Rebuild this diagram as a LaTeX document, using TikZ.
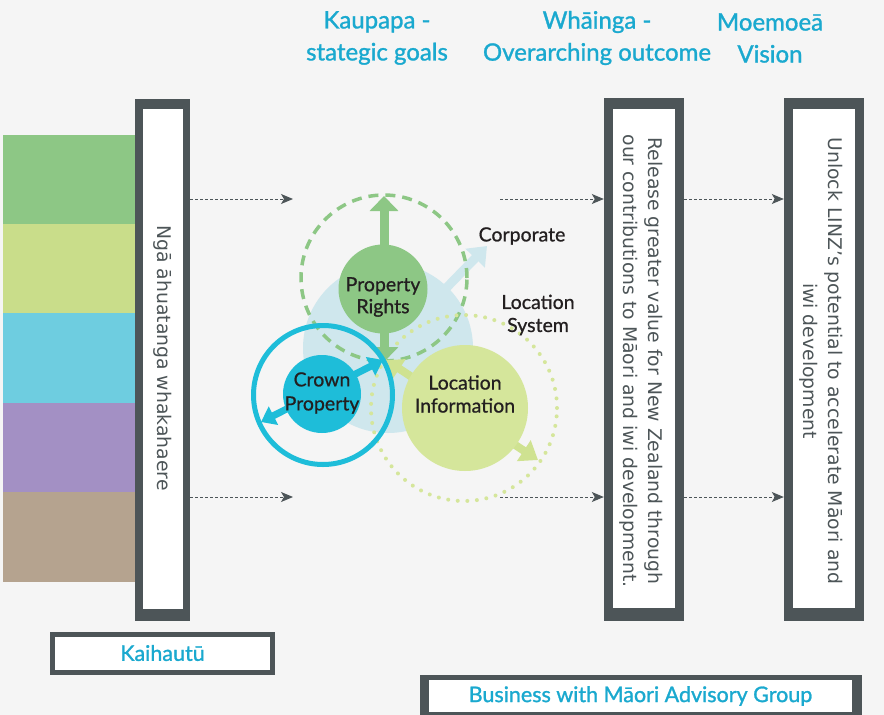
\documentclass[tikz,border=0pt]{standalone}
\usepackage{fontspec}
\setmainfont{Lato}
\newfontfamily\boxfont{DejaVu Sans}
\newfontfamily\headfont{Lato}[FakeBold=1.2]
\newfontfamily\lblfont{Lato}[FakeBold=0.8]
\usetikzlibrary{arrows.meta}
\definecolor{bg}{HTML}{F5F5F5}
\definecolor{dark}{HTML}{4D5558}
\definecolor{head}{HTML}{1AA9CF}
\definecolor{sgreen}{HTML}{8DC785}
\definecolor{syellow}{HTML}{C9DD8A}
\definecolor{scyan}{HTML}{6ECDE0}
\definecolor{spurple}{HTML}{A390C4}
\definecolor{stan}{HTML}{B5A38F}
\definecolor{pale}{HTML}{CFE7ED}
\definecolor{lgreen}{HTML}{D5E69B}
\definecolor{larrow}{HTML}{CFE291}
\definecolor{crown}{HTML}{1EBDD9}
\definecolor{txt}{HTML}{231F20}
\tikzset{
  strip/.style={rectangle, inner sep=0pt, minimum width=132pt, minimum height=89.5pt},
  outerbox/.style={rectangle, fill=dark, inner sep=0pt},
  innerbox/.style={rectangle, fill=white, inner sep=0pt},
  boxtext/.style={rotate=-90, text=dark, align=center, font=\boxfont\fontsize{18.8}{25.5}\selectfont},
  heading/.style={text=head, align=center, font=\headfont\fontsize{24}{32}\selectfont},
  smallbox/.style={rectangle, fill=white, draw=dark, line width=5pt, inner sep=0pt, text=head, font=\headfont\fontsize{21.5}{25}\selectfont},
  dasharrow/.style={dark, line width=1pt, dash pattern=on 3pt off 2pt, -{Stealth[length=12pt, width=10pt, inset=3pt]}},
  goal/.style={circle, inner sep=0pt},
  lbl/.style={text=txt, align=center, font=\lblfont\fontsize{19.5}{23}\selectfont},
}
\begin{document}
\begin{tikzpicture}[x=1pt, y=-1pt]
\useasboundingbox (0,0) rectangle (884,715);
\fill[bg] (0,0) rectangle (884,715);

% colour strips
\node[strip, fill=sgreen]  (s1) at (69,179.5) {};
\node[strip, fill=syellow] (s2) at (69,268.5) {};
\node[strip, fill=scyan]   (s3) at (69,358) {};
\node[strip, fill=spurple] (s4) at (69,447.5) {};
\node[strip, fill=stan]    (s5) at (69,537) {};

% tall boxes
\node[outerbox, minimum width=55pt, minimum height=522pt] (lout) at (162.5,360) {};
\node[innerbox, minimum width=40pt, minimum height=500pt] (lin) at (163,359) {};
\node[boxtext, font=\boxfont\fontsize{18.8}{22}\selectfont] (ltxt) at (163,358) {Ngā āhuatanga whakahaere};

\node[outerbox, minimum width=80pt, minimum height=523pt] (mout) at (644,359.5) {};
\node[innerbox, minimum width=62pt, minimum height=499pt] (min) at (644,358.5) {};
\node[boxtext] (mtxt) at (641,361) {Release greater value for New Zealand through\\our contributions to Māori and iwi development.};

\node[outerbox, minimum width=80pt, minimum height=523pt] (rout) at (824,359.5) {};
\node[innerbox, minimum width=62pt, minimum height=499pt] (rin) at (824,358.5) {};
\node[boxtext] (rtxt) at (821,361) {Unlock LINZ’s potential to accelerate Māori and\\iwi development};

% headings
\node[heading] (h1) at (377,38) {Kaupapa -\\stategic goals};
\node[heading] (h2) at (597,38) {Whāinga -\\Overarching outcome};
\node[heading] (h3) at (770,38) {Moemoeā\\Vision};

% bottom boxes
\node[smallbox, minimum width=220pt, minimum height=38pt] (kai) at (162.5,653) {Kaihautū};
\fill[dark] (420,675) rectangle (862,720);
\node[innerbox, minimum width=423pt, minimum height=32pt, text=head, font=\headfont\fontsize{21.5}{25}\selectfont] (bus) at (640.5,696) {Business with Māori Advisory Group};

% dashed arrows
\coordinate (a1) at (293,199);
\coordinate (a2) at (293,497);
\coordinate (b1) at (500,199);
\coordinate (b2) at (500,497);
\draw[dasharrow] (lout.east |- a1) -- (a1);
\draw[dasharrow] (lout.east |- a2) -- (a2);
\draw[dasharrow] (b1) -- (mout.west |- b1);
\draw[dasharrow] (b2) -- (mout.west |- b2);
\draw[dasharrow] (mout.east |- b1) -- (rout.west |- b1);
\draw[dasharrow] (mout.east |- b2) -- (rout.west |- b2);

% central diagram
\node[circle, fill=pale, minimum size=170pt, inner sep=0pt] (core) at (388,348) {};
\coordinate (corpTip) at (487,246);
\draw[pale, line width=9pt, -{Triangle[width=26pt, length=17pt]}] (core.center) -- (corpTip);

\node[circle, draw=sgreen, line width=3.5pt, dash pattern=on 10pt off 7pt, minimum size=166pt, inner sep=0pt] (prring) at (384,278) {};
\node[circle, draw=lgreen, line width=4pt, line cap=round, dash pattern=on 0pt off 9.6pt, minimum size=186pt, inner sep=0pt] (liring) at (464,408) {};

\coordinate (gTop) at (384,196);
\coordinate (gBot) at (384,362);
\draw[sgreen, line width=9pt, {Triangle[width=28pt, length=15pt]}-{Triangle[width=28pt, length=15pt]}] (gTop) -- (gBot);

\coordinate (lA) at (386,360);
\coordinate (lB) at (538,460);
\draw[larrow, line width=8pt, {Triangle[width=22pt, length=16pt]}-{Triangle[width=24pt, length=17pt]}] (lA) -- (lB);

\node[circle, draw=crown, line width=5pt, minimum size=139pt, inner sep=0pt] (cpring) at (323,395) {};
\coordinate (cA) at (261,422);
\coordinate (cB) at (383,360);
\draw[crown, line width=7pt, {Triangle[width=20pt, length=14pt]}-{Triangle[width=20pt, length=14pt]}] (cA) -- (cB);

\node[goal, fill=sgreen, minimum size=89pt] (pr) at (383,289) {};
\node[goal, fill=crown, minimum size=78pt] (cp) at (322,394) {};
\node[goal, fill=lgreen, minimum size=126pt] (li) at (465,408) {};

\node[lbl, font=\lblfont\fontsize{19.5}{22}\selectfont] (prtxt) at ([yshift=-8pt]pr.center) {Property\\Rights};
\node[lbl, font=\lblfont\fontsize{19.5}{24}\selectfont] (cptxt) at ([yshift=1pt]cp.center) {Crown\\Property};
\node[lbl, font=\lblfont\fontsize{19.5}{23}\selectfont] (litxt) at ([yshift=14pt]li.center) {Location\\Information};

\node[lbl] (corp) at (522,236) {Corporate};
\node[lbl] (locsys) at (538,315) {Location\\System};
\end{tikzpicture}
\end{document}
